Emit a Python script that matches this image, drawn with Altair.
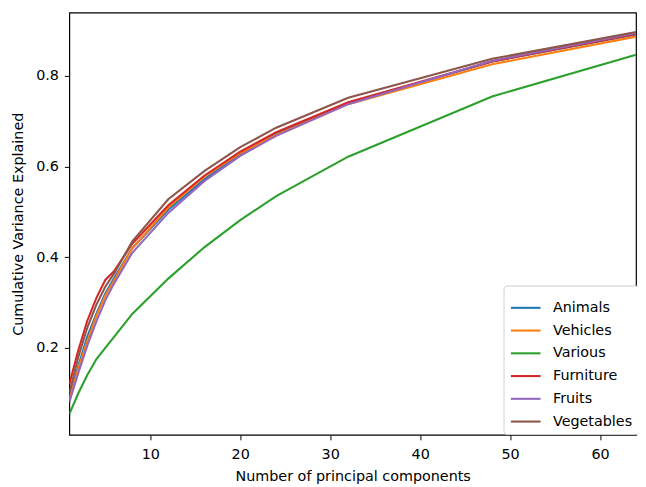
import altair as alt
import pandas as pd

x_vals = [1, 2, 3, 4, 5, 6, 8, 12, 16, 20, 24, 32, 48, 64]
series_names = ["Animals", "Vehicles", "Various", "Furniture", "Fruits", "Vegetables"]
animals = [0.090, 0.160, 0.225, 0.275, 0.320, 0.355, 0.420, 0.505, 0.572, 0.628, 0.672, 0.740, 0.832, 0.892]
vehicles = [0.085, 0.155, 0.215, 0.270, 0.315, 0.350, 0.420, 0.510, 0.578, 0.630, 0.670, 0.738, 0.826, 0.887]
various = [0.054, 0.100, 0.140, 0.175, 0.200, 0.225, 0.275, 0.353, 0.422, 0.482, 0.535, 0.622, 0.755, 0.847]
furniture = [0.120, 0.195, 0.260, 0.310, 0.350, 0.370, 0.430, 0.515, 0.580, 0.633, 0.676, 0.742, 0.832, 0.893]
fruits = [0.080, 0.145, 0.205, 0.258, 0.305, 0.343, 0.410, 0.498, 0.568, 0.624, 0.668, 0.738, 0.834, 0.895]
vegetables = [0.100, 0.180, 0.245, 0.295, 0.335, 0.365, 0.435, 0.528, 0.590, 0.643, 0.686, 0.752, 0.838, 0.897]
colors = ["#1f77b4", "#ff7f0e", "#2ca02c", "#d62728", "#9467bd", "#8c564b"]

all_series = [animals, vehicles, various, furniture, fruits, vegetables]
rows = []
for i, (name, vals) in enumerate(zip(series_names, all_series)):
    for xv, yv in zip(x_vals, vals):
        rows.append({"n": xv, "v": yv, "series": name, "k": i})
df = pd.DataFrame(rows)

FONT = "DejaVu Sans"

chart = (
    alt.Chart(df)
    .mark_line(strokeWidth=2.1, clip=True)
    .encode(
        x=alt.X(
            "n:Q",
            title="Number of principal components",
            scale=alt.Scale(domain=[1, 64], nice=False, zero=False),
            axis=alt.Axis(values=[10, 20, 30, 40, 50, 60], grid=False),
        ),
        y=alt.Y(
            "v:Q",
            title="Cumulative Variance Explained",
            scale=alt.Scale(domain=[0.008, 0.94], nice=False, zero=False),
            axis=alt.Axis(values=[0.2, 0.4, 0.6, 0.8], format=".1f", grid=False),
        ),
        color=alt.Color(
            "series:N",
            sort=series_names,
            scale=alt.Scale(domain=series_names, range=colors),
            legend=alt.Legend(
                title=None,
                orient="none",
                legendX=439,
                legendY=276,
                symbolType="stroke",
                symbolSize=900,
                symbolStrokeWidth=2.1,
                labelFontSize=14.5,
                labelFont=FONT,
                labelColor="black",
                labelOffset=11,
                rowPadding=-12,
                padding=6,
                fillColor="white",
                strokeColor="#cccccc",
                cornerRadius=3,
            ),
        ),
        order=alt.Order("k:Q"),
        detail="series:N",
    )
    .properties(width=573, height=427, padding={"left": 62, "top": 2, "right": 2, "bottom": 50},
                autosize=alt.AutoSizeParams(type="none"))
    .configure_view(stroke="black", strokeWidth=1.2)
    .configure_axis(
        domain=False,
        tickColor="black",
        tickSize=5,
        tickWidth=1,
        labelFont=FONT,
        labelFontSize=14.5,
        labelColor="black",
        titleFont=FONT,
        titleFontSize=14.5,
        titleFontWeight="normal",
        titleColor="black",
    )
    .configure_axisX(labelPadding=8, titlePadding=9)
    .configure_axisY(labelPadding=6, titlePadding=10)
)

chart.save("out.html", embed_options={"renderer": "svg", "actions": False})
